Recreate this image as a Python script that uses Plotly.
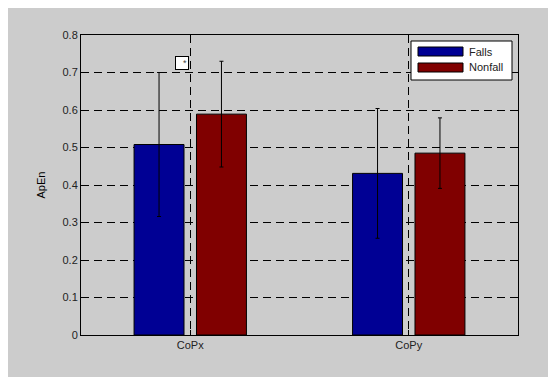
import plotly.graph_objects as go

categories = ["CoPx", "CoPy"]
falls_mean = [0.508, 0.431]
falls_err = [0.192, 0.173]
nonfall_mean = [0.589, 0.485]
nonfall_err = [0.141, 0.094]
series_names = ["Falls", "Nonfall"]
series_colors = ["#000094", "#800000"]
y_ticks = [0, 0.1, 0.2, 0.3, 0.4, 0.5, 0.6, 0.7, 0.8]
y_ticklabels = ["0", "0.1", "0.2", "0.3", "0.4", "0.5", "0.6", "0.7", "0.8"]

# page offset caused by the default body margin
OFF = 8
W, H = 559 - OFF, 387 - OFF
L, R, T, B = 81 - OFF, 41, 35 - OFF, 52
pw, ph = W - L - R, H - T - B


def px(xp):
    # xp given in page pixels
    return (xp - OFF - L) / pw


def py(yp):
    return (H - B - (yp - OFF)) / ph


fig = go.Figure()
for name, means, errs, col in [
    (series_names[0], falls_mean, falls_err, series_colors[0]),
    (series_names[1], nonfall_mean, nonfall_err, series_colors[1]),
]:
    fig.add_trace(go.Bar(
        x=categories, y=means, name=name,
        marker=dict(color=col, line=dict(color="black", width=1)),
        error_y=dict(type="data", array=errs, visible=True,
                     color="black", thickness=1, width=2),
        showlegend=False,
    ))

axis_font = dict(family="Liberation Sans, Arial, sans-serif", size=11, color="#222222")

fig.update_layout(
    width=W, height=H,
    margin=dict(l=L, r=R, t=T, b=B, pad=0),
    paper_bgcolor="white",
    plot_bgcolor="white",
    barmode="group",
    bargap=0.4286,
    bargroupgap=0.2,
    font=axis_font,
    xaxis=dict(
        range=[-0.5, 1.5],
        showgrid=True, gridcolor="black", griddash="8px,5px", gridwidth=1,
        showline=True, linecolor="black", linewidth=1, mirror="ticks",
        ticks="inside", ticklen=5, tickcolor="black",
        tickfont=axis_font,
    ),
    yaxis=dict(
        range=[0, 0.8],
        tickvals=y_ticks, ticktext=y_ticklabels,
        showgrid=True, gridcolor="black", griddash="8px,5px", gridwidth=1,
        zeroline=False,
        showline=True, linecolor="black", linewidth=1, mirror="ticks",
        ticks="inside", ticklen=5, tickcolor="black",
        tickfont=axis_font,
        title=dict(text="ApEn", font=dict(family="Liberation Sans, Arial, sans-serif", size=11, color="black"), standoff=14),
    ),
    showlegend=False,
)

shapes = [
    # gray figure background
    dict(type="rect", xref="paper", yref="paper", layer="below",
         x0=px(8), x1=px(548), y0=py(377), y1=py(8),
         fillcolor="#cccccc", line=dict(width=0)),
    # legend box
    dict(type="rect", xref="paper", yref="paper",
         x0=px(411), x1=px(512), y0=py(80), y1=py(41),
         fillcolor="white", line=dict(color="black", width=1)),
]
annotations = [
    dict(x=0, y=0.7245, xref="x", yref="y", xshift=-8.5, text="*",
         showarrow=False, bordercolor="black", borderwidth=1, borderpad=1,
         width=10, height=10, align="right", bgcolor="white",
         font=dict(size=9, color="#444444")),
]
sw_y = [(47, 56), (63, 72)]
for name, col, (y0, y1) in zip(series_names, series_colors, sw_y):
    shapes.append(dict(type="rect", xref="paper", yref="paper",
                       x0=px(418), x1=px(463), y0=py(y1), y1=py(y0),
                       fillcolor=col, line=dict(color="black", width=1)))
    annotations.append(dict(x=px(467), y=py((y0 + y1) / 2), xref="paper", yref="paper",
                            text=name, showarrow=False, xanchor="left", yanchor="middle",
                            font=dict(family="Liberation Sans, Arial, sans-serif", size=11, color="#222222")))

fig.update_layout(shapes=shapes, annotations=annotations)
fig.write_html("out.html")
